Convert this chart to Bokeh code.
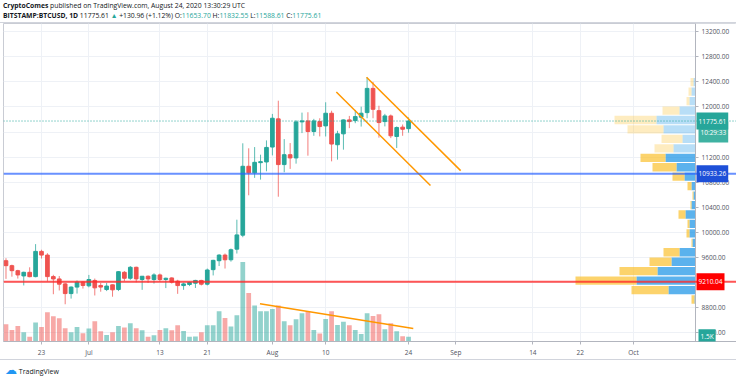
import pandas as pd
from bokeh.plotting import figure
from bokeh.models import (Range1d, FixedTicker, Span, Label, Div, ColumnDataSource,
                          PrintfTickFormatter, BoxAnnotation)
from bokeh.layouts import column
from bokeh.embed import file_html
from bokeh.resources import INLINE

# ---------------- data ----------------
symbol = "BITSTAMP:BTCUSD, 1D"
publisher = "CryptoComes"
published = "published on TradingView.com, August 24, 2020 13:30:29 UTC"
dates = pd.date_range("2020-06-17", "2020-08-24", freq="D")

opens = [9545, 9466, 9386, 9302, 9360, 9291, 9694, 9635, 9291, 9254, 9175, 9020, 9124, 9203,
         9144, 9230, 9150, 9085, 9160, 9085, 9360, 9265, 9440, 9245, 9297, 9245, 9318, 9245, 9270, 9218,
         9148, 9165, 9186, 9230, 9170, 9402, 9545, 9635, 9560, 9730, 9953, 11053, 10948, 11111, 11122,
         11360, 11810, 11080, 11238, 11186, 11762, 11778, 11608, 11767, 11698, 11900, 11397, 11571, 11794,
         11783, 11837, 11910, 12297, 11941, 11767, 11857, 11529, 11678, 11653.70]
highs = [9585, 9482, 9400, 9370, 9440, 9810, 9720, 9665, 9320, 9300, 9190, 9135, 9230, 9215,
         9318, 9260, 9190, 9190, 9165, 9380, 9380, 9460, 9450, 9300, 9310, 9345, 9340, 9275, 9280, 9240,
         9195, 9210, 9240, 9240, 9420, 9560, 9650, 9660, 9740, 10200, 11420, 11340, 11360, 11238, 11466,
         11889, 12100, 11487, 11424, 11790, 11910, 11916, 11810, 11820, 12075, 11940, 11620, 11800, 11857,
         11952, 12005, 12471, 12400, 12020, 11890, 11880, 11690, 11720, 11832.55]
lows = [9255, 9290, 9260, 9150, 9280, 9280, 9580, 9215, 9010, 9070, 8850, 8940, 9020, 9100,
        9120, 8990, 9050, 9060, 8970, 9060, 9220, 9240, 9200, 9080, 9190, 9180, 9210, 9108, 9180, 9016,
        9080, 9140, 9110, 9150, 9150, 9310, 9460, 9420, 9530, 9660, 9920, 10590, 10868, 10840, 10973,
        11227, 10567, 10958, 11011, 11095, 11583, 11222, 11540, 11530, 11529, 11132, 11159, 11318, 11662,
        11741, 11687, 11820, 11820, 11510, 11690, 11503, 11345, 11540, 11588.61]
closes = [9466, 9386, 9318, 9360, 9290, 9694, 9635, 9291, 9254, 9170, 9020, 9124, 9203, 9150,
          9245, 9112, 9124, 9140, 9080, 9370, 9265, 9440, 9255, 9297, 9254, 9318, 9245, 9265, 9203, 9148,
          9175, 9197, 9230, 9170, 9397, 9551, 9635, 9560, 9720, 9957, 11053, 10948, 11116, 11127, 11354,
          11820, 11080, 11238, 11186, 11762, 11778, 11608, 11778, 11687, 11900, 11408, 11571, 11794, 11767,
          11846, 11900, 12297, 11963, 11751, 11857, 11540, 11672, 11644.65, 11775.61]
volumes = [5560, 3750, 5030, 3000, 1500, 6100, 4710, 9420, 8130, 7490, 4280, 3000, 4710, 2680,
           4170, 6530, 3320, 2140, 3000, 5030, 4490, 5890, 4280, 3640, 1500, 2030, 3750, 4280, 3640, 5240,
           3420, 1500, 1610, 3000, 5240, 5240, 9740, 7600, 4820, 8450, 25700, 15700, 11660, 9740, 9740,
           10490, 11660, 6530, 5240, 7170, 9100, 9630, 3750, 2570, 7280, 9740, 5350, 6420, 5240,
           3750, 2460, 9100, 8240, 8770, 3960, 5890, 3320, 1710, 1500]

# volume profile rows (bottom -> top), up / down volume
vp_up = [1, 27, 59, 38, 24, 16, 3, 6, 6, 10, 4, 2, 4, 11, 19, 30, 22, 13, 32, 39, 16, 6, 4, 2]
vp_down = [3, 37, 61, 38, 22, 16, 1, 3, 2, 7, 1, 1, 4, 12, 24, 25, 19, 21, 36, 42, 17, 3, 3, 3]
value_area_rows = (0, 15)

x_tick_dates = ["2020-06-23", "2020-07-01", "2020-07-13", "2020-07-21", "2020-08-01", "2020-08-10",
                "2020-08-24", "2020-09-01", "2020-09-14", "2020-09-22", "2020-10-01"]
x_tick_labels = ["23", "Jul", "13", "21", "Aug", "10", "24", "Sep", "14", "22", "Oct"]
price_ticks = [8400, 8800, 9600, 10000, 10400, 10800, 11200, 12000, 12400, 12800, 13200]
grid_prices = [8400, 8800, 9200, 9600, 10000, 10400, 10800, 11200, 11600, 12000, 12400, 12800, 13200]

resistance = 10933.26
support = 9210.04
countdown = "10:29:33"
vol_label = "1.5K"

# drawn trend lines (day offsets from 2020-06-23, values)
chan_up_x, chan_up_y = [54.9, 70.8], [12476, 10984]
chan_lo_x, chan_lo_y = [49.8, 65.7], [12238, 10746]
vol_tr_x, vol_tr_y = [36.9, 62.8], [12200, 4170]

# ---------------- derived ----------------
origin = pd.Timestamp("2020-06-23")
xs = [(d - origin).days for d in dates]
UP, DN = "#26a69a", "#ef5350"
cols = [UP if c >= o else DN for o, c in zip(opens, closes)]
src = ColumnDataSource(dict(x=xs, o=opens, h=highs, l=lows, c=closes,
                            top=[max(o, c) for o, c in zip(opens, closes)],
                            bot=[min(o, c) for o, c in zip(opens, closes)],
                            col=cols, vol=volumes))

FONT = "Open Sans"
FS = "6.5px"
FW, FH = 733, 320          # frame size in px
PX_DAY = 5.92              # px per day
X0 = -6.42                 # left edge (days)
AXIS_PX = 692              # price scale position inside frame
axis_x = X0 + AXIS_PX / PX_DAY

p = figure(width=736, height=336, x_range=Range1d(X0, X0 + FW / PX_DAY), y_range=Range1d(8255, 13333),
           output_backend="svg", toolbar_location=None, y_axis_location="right",
           min_border_left=3, min_border_right=0, min_border_top=0, min_border_bottom=16)
p.extra_y_ranges = {"vol": Range1d(0, FH * 321)}
p.extra_x_ranges = {"vp": Range1d(AXIS_PX, AXIS_PX - FW)}
p.background_fill_color = "white"
p.border_fill_color = "white"
p.outline_line_color = "#c9ccd4"

# grid
xt = [(pd.Timestamp(d) - origin).days for d in x_tick_dates]
p.xgrid.ticker = FixedTicker(ticks=xt)
p.ygrid.ticker = FixedTicker(ticks=grid_prices)
p.grid.grid_line_color = "#eef1f6"

# axes
p.xaxis.ticker = FixedTicker(ticks=xt)
p.xaxis.major_label_overrides = {x: t for x, t in zip(xt, x_tick_labels)}
p.yaxis.ticker = FixedTicker(ticks=price_ticks)
p.yaxis.formatter = PrintfTickFormatter(format="%.2f")
p.yaxis.fixed_location = axis_x
for ax in (p.xaxis[0], p.yaxis[0]):
    ax.axis_line_color = "#b2b5be"
    ax.major_tick_line_color = "#b2b5be"
    ax.minor_tick_line_color = None
    ax.major_tick_in = 0
    ax.major_tick_out = 3
    ax.major_label_text_font = FONT
    ax.major_label_text_font_size = FS
    ax.major_label_text_color = "#50535e"
    ax.major_label_standoff = 3

# volume profile
lo, hi, n = min(lows), max(highs), len(vp_up)
row = (hi - lo) / n
centers = [lo + row * (i + 0.5) for i in range(n)]
in_va = [value_area_rows[0] <= i <= value_area_rows[1] for i in range(n)]
vsrc = ColumnDataSource(dict(y=centers, up=vp_up, tot=[u + d for u, d in zip(vp_up, vp_down)],
                             a=[0.7 if v else 0.3 for v in in_va]))
p.hbar(y="y", left=0, right="up", height=row * 0.88, x_range_name="vp", source=vsrc,
       fill_color="#1592e6", fill_alpha="a", line_color=None)
p.hbar(y="y", left="up", right="tot", height=row * 0.88, x_range_name="vp", source=vsrc,
       fill_color="#fbc02d", fill_alpha="a", line_color=None)

# volume bars
p.vbar(x="x", top="vol", bottom=0, width=0.8, y_range_name="vol", source=src,
       fill_color="col", fill_alpha=0.5, line_color=None)

# candles
p.segment(x0="x", y0="l", x1="x", y1="h", line_color="col", line_alpha=0.75, line_width=1, source=src)
p.vbar(x="x", top="top", bottom="bot", width=0.62, fill_color="col", line_color="col", source=src)

# trend lines
p.line(chan_up_x, chan_up_y, line_color="#ff9800", line_width=1.5)
p.line(chan_lo_x, chan_lo_y, line_color="#ff9800", line_width=1.5)
p.line(vol_tr_x, vol_tr_y, line_color="#ff9800", line_width=1.5, y_range_name="vol")

# white price-scale area (covers grid under the scale)
p.add_layout(BoxAnnotation(left=axis_x, fill_color="white", fill_alpha=1.0, line_color=None, level="glyph"))

# horizontal levels
p.add_layout(Span(location=closes[-1], dimension="width", line_color=UP, line_dash="1 2", line_width=1))
p.add_layout(Span(location=resistance, dimension="width", line_color="#2962ff", line_alpha=0.7, line_width=2))
p.add_layout(Span(location=support, dimension="width", line_color="#ff2a2a", line_alpha=0.8, line_width=2))

def tag(y, text, bg, yr="default", yoff=0, xoff=0, pad=(2, 6)):
    p.add_layout(Label(x=AXIS_PX + 1 + xoff, y=y, x_units="screen", y_units="data", text=text, y_range_name=yr,
                       y_offset=yoff, text_color="white", text_font=FONT, text_font_size=FS,
                       text_baseline="middle", text_align="left", background_fill_color=bg,
                       background_fill_alpha=1.0, padding=pad))

tag(closes[-1], countdown, "#3fb2a2", yoff=-11, xoff=2)
tag(closes[-1], f"{closes[-1]:.2f}", "#26a69a")
tag(resistance, f"{resistance:.2f}", "#1e50d8")
tag(support, f"{support:.2f}", "#ff0000")
tag(volumes[-1], vol_label, "#26a69a", yr="vol", xoff=2, pad=(2, 3))

# header
chg = closes[-1] - closes[-2]
pct = chg / closes[-2] * 100
t = UP
line_css = "height:10px;line-height:10px;white-space:nowrap"
header_html = (
    f"<div style=\"font-family:'{FONT}';font-size:6.8px;color:#131722;padding:1px 0 0 3px\">"
    f"<div style='{line_css}'><b>{publisher}</b> {published}</div>"
    f"<div style='{line_css}'><b>{symbol}</b> {closes[-1]:.2f} <span style='color:{t}'>&#9650;</span> "
    f"{chg:+.2f} ({pct:+.2f}%) "
    f"O:<span style='color:{t}'>{opens[-1]:.2f}</span> H:<span style='color:{t}'>{highs[-1]:.2f}</span> "
    f"L:<span style='color:{t}'>{lows[-1]:.2f}</span> C:<span style='color:{t}'>{closes[-1]:.2f}</span></div></div>")
header = Div(text=header_html, width=736, height=23, margin=(0, 0, 0, 0),
             styles={"border-bottom": "1px solid #d1d4dc", "box-sizing": "border-box"})
footer = Div(text=f"<div style=\"font-family:'{FONT}';font-size:7px;line-height:20px;color:#131722;"
                  "white-space:nowrap;padding-left:5px\">"
                  "<span style='color:#2196f3;font-size:12px'>&#9729;</span> TradingView</div>",
             width=736, height=21, margin=(0, 0, 0, 0),
             styles={"border-top": "1px solid #d1d4dc", "box-sizing": "border-box"})

layout = column(header, p, footer, spacing=0)
open("out.html", "w").write(file_html(layout, INLINE))
